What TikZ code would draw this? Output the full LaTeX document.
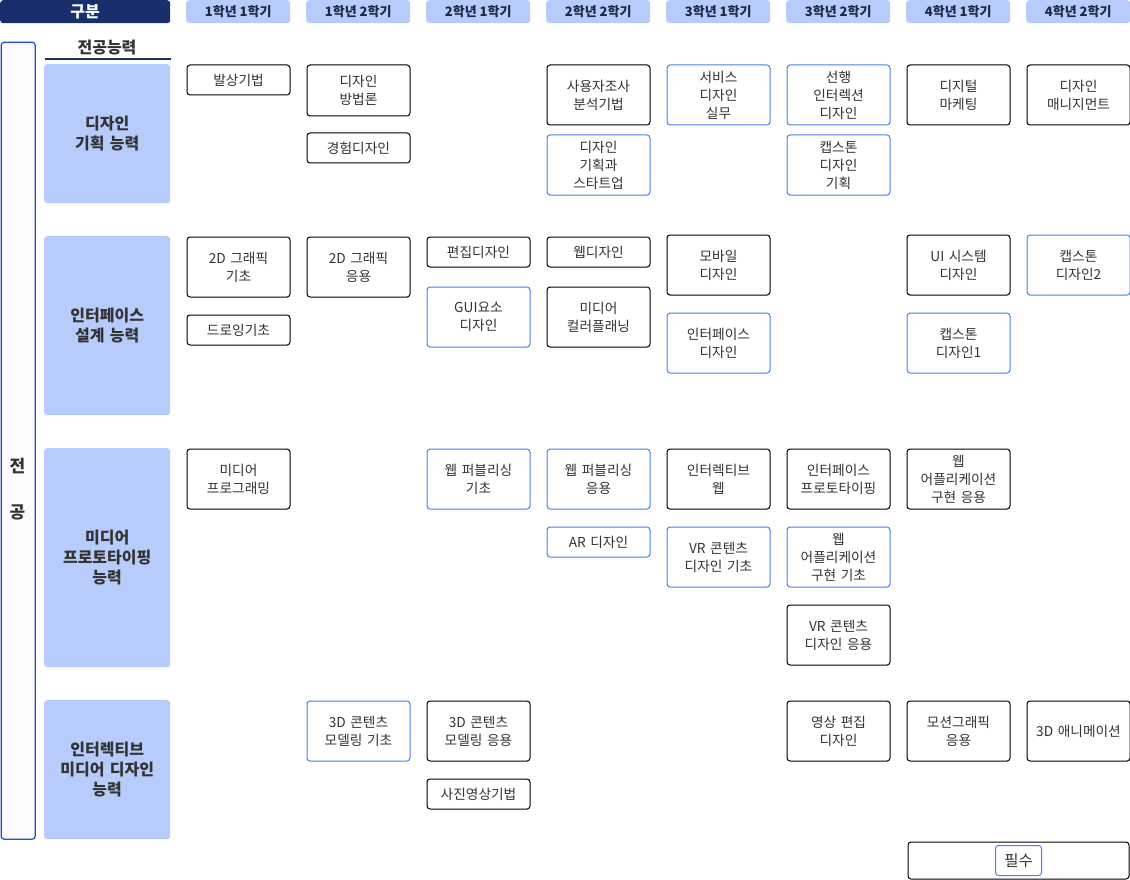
\documentclass[tikz,border=0pt]{standalone}
\usepackage{fontspec}
\setmainfont{Noto Sans CJK KR}
\usetikzlibrary{positioning}
\definecolor{navy}{RGB}{24,47,107}
\definecolor{headblue}{RGB}{184,204,251}
\definecolor{reqblue}{RGB}{74,128,240}
\definecolor{majorblue}{RGB}{29,78,216}
\definecolor{majorfill}{RGB}{252,250,252}
\definecolor{textgray}{RGB}{51,51,51}
\definecolor{headtext}{RGB}{30,41,70}

\begin{document}
\begin{tikzpicture}[x=1pt, y=-1pt,
    course/.style={rectangle, rounded corners=3pt, draw=black, line width=1pt, fill=white,
      minimum width=103pt, minimum height=30pt, text width=101pt, align=center, inner sep=0pt,
      anchor=north west, text=textgray, font=\fontsize{13.7}{18}\selectfont},
    reqcourse/.style={course, draw=reqblue},
    tall/.style={minimum height=60pt},
    semhead/.style={rectangle, rounded corners=3pt, fill=headblue, minimum width=104pt,
      minimum height=23pt, inner sep=0pt, anchor=north west, text=headtext,
      font=\bfseries\fontsize{13}{15}\selectfont},
    ability/.style={rectangle, rounded corners=3pt, fill=headblue, minimum width=126pt,
      text width=124pt, align=center, inner sep=0pt, anchor=north west, text=textgray,
      font=\bfseries\fontsize{16}{20}\selectfont}]
    \useasboundingbox (0,0) rectangle (1130,880);

    % header row
    \node[semhead, fill=navy, minimum width=170pt, text=white, font=\bfseries\fontsize{16}{18}\selectfont] (division) at (0,0) {구분};
    \foreach \i/\t in {1/1학년 1학기, 2/1학년 2학기, 3/2학년 1학기, 4/2학년 2학기, 5/3학년 1학기, 6/3학년 2학기, 7/4학년 1학기, 8/4학년 2학기}
      \node[semhead] (sem\i) at ({186+120*(\i-1)},0) {\t};

    % left column
    \node[rectangle, rounded corners=3pt, draw=majorblue, line width=1.2pt, fill=majorfill,
      minimum width=34pt, minimum height=797pt, anchor=north west, inner sep=0pt] (major) at (0.6,41.6) {};
    \node[text=textgray, align=center, font=\bfseries\fontsize{17}{46}\selectfont] (majortext) at (17.5,489) {전\\공};
    \node[text=textgray, font=\bfseries\fontsize{16}{18}\selectfont] (abilities) at (107,48) {전공능력};
    \coordinate (lineleft) at (45,59);
    \coordinate (lineright) at (171,59);
    \draw[navy, line width=2pt] (lineleft) -- (lineright);

    \node[ability, minimum height=139pt] (planning) at (44,64) {디자인\\기획 능력};
    \node[ability, minimum height=179pt] (interface) at (44,236) {인터페이스\\설계 능력};
    \node[ability, minimum height=219pt] (prototyping) at (44,448) {미디어\\프로토타이핑\\능력};
    \node[ability, minimum height=139pt] (interactive) at (44,700) {인터렉티브\\미디어 디자인\\능력};

    % design planning
    \node[course] (idea) at (186.5,64.5) {발상기법};
    \node[course, minimum height=51pt] (method) at (306.5,64.5) {디자인\\방법론};
    \node[course, below=16pt of method] (experience) {경험디자인};
    \node[course, tall] (research) at (546.5,64.5) {사용자조사\\분석기법};
    \node[reqcourse, tall, below=9pt of research] (startup) {디자인\\기획과\\스타트업};
    \node[reqcourse, tall] (service) at (666.5,64.5) {서비스\\디자인\\실무};
    \node[reqcourse, tall] (advinter) at (786.5,64.5) {선행\\인터렉션\\디자인};
    \node[reqcourse, tall, below=9pt of advinter] (capplan) {캡스톤\\디자인\\기획};
    \node[course, tall] (digmkt) at (906.5,64.5) {디지털\\마케팅};
    \node[course, tall] (dmgmt) at (1026.5,64.5) {디자인\\매니지먼트};

    % interface design
    \node[course, tall] (gfxbasic) at (186.5,236.5) {2D 그래픽\\기초};
    \node[course, below=17pt of gfxbasic] (drawing) {드로잉기초};
    \node[course, tall] (gfxapp) at (306.5,236.5) {2D 그래픽\\응용};
    \node[course] (editorial) at (426.5,236.5) {편집디자인};
    \node[reqcourse, tall, below=19pt of editorial] (gui) {GUI요소\\디자인};
    \node[course] (webdesign) at (546.5,236.5) {웹디자인};
    \node[course, tall, below=19pt of webdesign] (color) {미디어\\컬러플래닝};
    \node[course, tall] (mobile) at (666.5,234.5) {모바일\\디자인};
    \node[reqcourse, tall, below=17pt of mobile] (ifdesign) {인터페이스\\디자인};
    \node[course, tall] (uisys) at (906.5,234.5) {UI 시스템\\디자인};
    \node[reqcourse, tall, below=17pt of uisys] (capone) {캡스톤\\디자인1};
    \node[reqcourse, tall] (captwo) at (1026.5,234.5) {캡스톤\\디자인2};

    % media prototyping
    \node[course, tall] (mprog) at (186.5,448.5) {미디어\\프로그래밍};
    \node[reqcourse, tall] (pubbasic) at (426.5,448.5) {웹 퍼블리싱\\기초};
    \node[reqcourse, tall] (pubapp) at (546.5,448.5) {웹 퍼블리싱\\응용};
    \node[reqcourse, below=17pt of pubapp] (ar) {AR 디자인};
    \node[course, tall] (iweb) at (666.5,448.5) {인터렉티브\\웹};
    \node[reqcourse, tall, below=17pt of iweb] (vrbasic) {VR 콘텐츠\\디자인 기초};
    \node[course, tall] (proto) at (786.5,448.5) {인터페이스\\프로토타이핑};
    \node[reqcourse, tall, below=17pt of proto] (webappbasic) {웹\\어플리케이션\\구현 기초};
    \node[course, tall, below=17pt of webappbasic] (vrapp) {VR 콘텐츠\\디자인 응용};
    \node[course, tall] (webappapp) at (906.5,448.5) {웹\\어플리케이션\\구현 응용};

    % interactive media
    \node[reqcourse, tall] (modelbasic) at (306.5,700.5) {3D 콘텐츠\\모델링 기초};
    \node[course, tall] (modelapp) at (426.5,700.5) {3D 콘텐츠\\모델링 응용};
    \node[course, below=17pt of modelapp] (photo) {사진영상기법};
    \node[course, tall] (videoedit) at (786.5,700.5) {영상 편집\\디자인};
    \node[course, tall] (motion) at (906.5,700.5) {모션그래픽\\응용};
    \node[course, tall] (animation) at (1026.5,700.5) {3D 애니메이션};

    % legend
    \node[course, minimum width=221pt, minimum height=37pt, text width=219pt] (legend) at (907.5,841.5) {};
    \node[reqcourse, anchor=center, minimum width=46pt, minimum height=30pt, text width=44pt,
      font=\fontsize{15.5}{18}\selectfont] (required) at (legend.center) {필수};
\end{tikzpicture}
\end{document}
